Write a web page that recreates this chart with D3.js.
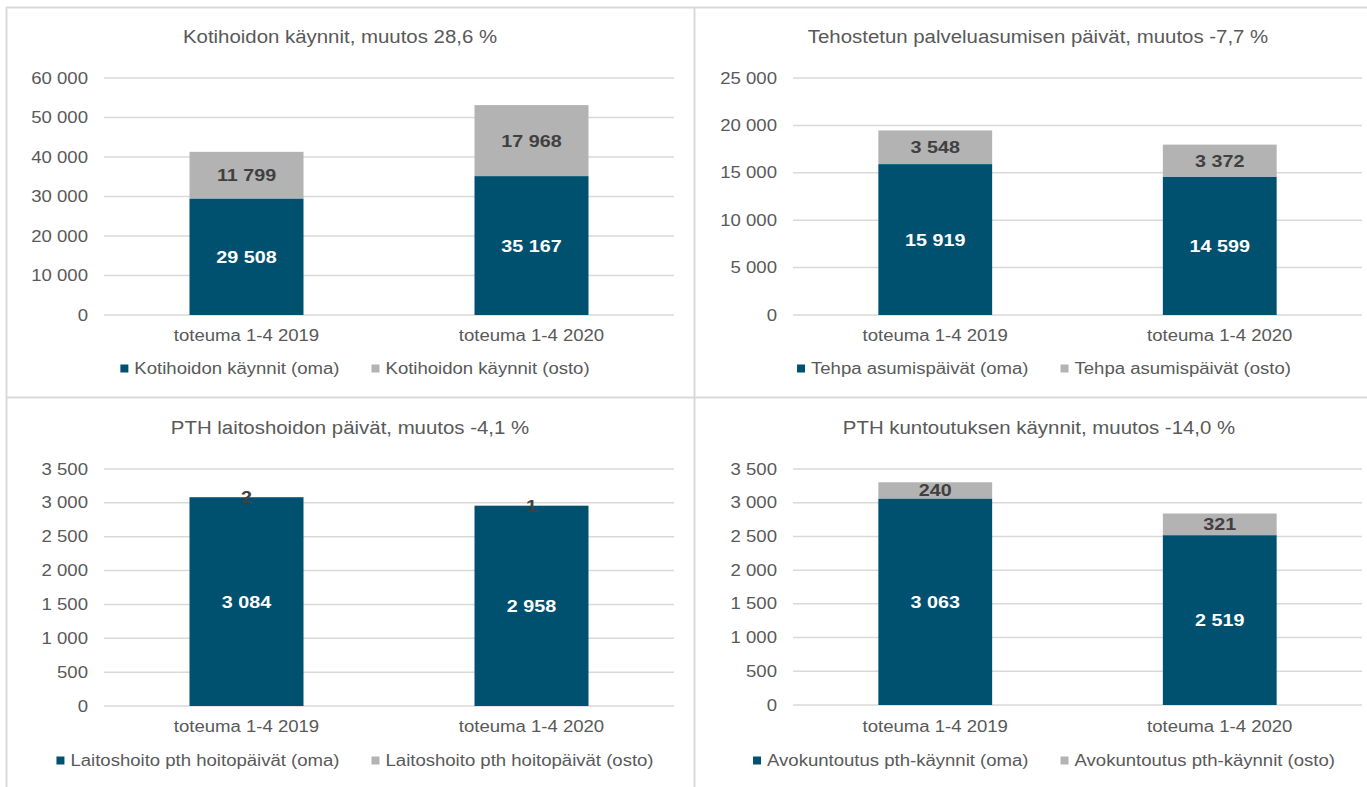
<!DOCTYPE html>
<html>
<head>
<meta charset="utf-8">
<script src="https://cdn.jsdelivr.net/npm/d3@7"></script>
<style>
  html, body { margin: 0; padding: 0; background: #fff; }
  svg { display: block; font-family: "Liberation Sans", Arial, sans-serif; }
</style>
</head>
<body>
<svg id="chart" width="1367" height="787"></svg>
<script>
// ---------- DATA ----------
const categories = ["toteuma 1-4 2019", "toteuma 1-4 2020"];
const titles = [
  "Kotihoidon käynnit, muutos 28,6 %",
  "Tehostetun palveluasumisen päivät, muutos -7,7 %",
  "PTH laitoshoidon päivät, muutos -4,1 %",
  "PTH kuntoutuksen käynnit, muutos -14,0 %"
];
const omaNames = [
  "Kotihoidon käynnit (oma)",
  "Tehpa asumispäivät (oma)",
  "Laitoshoito pth hoitopäivät (oma)",
  "Avokuntoutus pth-käynnit (oma)"
];
const ostoNames = [
  "Kotihoidon käynnit (osto)",
  "Tehpa asumispäivät (osto)",
  "Laitoshoito pth hoitopäivät (osto)",
  "Avokuntoutus pth-käynnit (osto)"
];
const omaValues = [[29508, 35167], [15919, 14599], [3084, 2958], [3063, 2519]];
const ostoValues = [[11799, 17968], [3548, 3372], [2, 1], [240, 321]];
const yMax = [60000, 25000, 3500, 3500];
const yStep = [10000, 5000, 500, 500];

// ---------- LAYOUT / STYLE ----------
const layout = [
  {x0: 104, x1: 674, yTop: 78, yZero: 315, titleX: 340, titleY: 43, catY: 341, legY: 374, legCx: 355},
  {x0: 793, x1: 1362, yTop: 78, yZero: 315, titleX: 1038, titleY: 43, catY: 341, legY: 374, legCx: 1044},
  {x0: 104, x1: 674, yTop: 469, yZero: 706, titleX: 350, titleY: 434, catY: 732, legY: 766, legCx: 355},
  {x0: 793, x1: 1362, yTop: 469, yZero: 705, titleX: 1039, titleY: 434, catY: 732, legY: 766, legCx: 1044}
];
const SX = 1.16;           // horizontal text stretch seen in the reference
const C_OMA = "#00516F";
const C_OSTO = "#B3B3B3";
const C_TEXT = "#595959";
const C_GRID = "#D9D9D9";

const loc = d3.formatLocale({decimal: ",", thousands: " ", grouping: [3], currency: ["", ""]});
const fmt = loc.format(",d");

const svg = d3.select("#chart");

function txt(g, x, y, s, o) {
  o = o || {};
  return g.append("text")
    .attr("transform", `translate(${x},${y}) scale(${SX},1)`)
    .attr("text-anchor", o.anchor || "middle")
    .attr("dy", o.dy || null)
    .attr("font-size", o.size || 16)
    .attr("font-weight", o.weight || "normal")
    .attr("fill", o.fill || C_TEXT)
    .text(s);
}

// panel borders
const borders = svg.append("g").attr("stroke", C_GRID).attr("stroke-width", 2).attr("fill", "none");
borders.append("line").attr("x1", 6).attr("x2", 1367).attr("y1", 7.5).attr("y2", 7.5);
borders.append("line").attr("x1", 6).attr("x2", 1367).attr("y1", 397.5).attr("y2", 397.5);
borders.append("line").attr("x1", 6.5).attr("x2", 6.5).attr("y1", 7).attr("y2", 787);
borders.append("line").attr("x1", 694.5).attr("x2", 694.5).attr("y1", 7).attr("y2", 787);

for (let p = 0; p < 4; p++) {
  const L = layout[p];
  const g = svg.append("g");

  const x = d3.scaleBand().domain(categories).range([L.x0, L.x1]).paddingInner(0.6).paddingOuter(0.3);
  const y = d3.scaleLinear().domain([0, yMax[p]]).range([L.yZero, L.yTop]);
  const ticks = d3.range(0, yMax[p] + 1, yStep[p]);

  // gridlines
  g.append("g").selectAll("line").data(ticks).join("line")
    .attr("x1", L.x0).attr("x2", L.x1)
    .attr("y1", d => y(d)).attr("y2", d => y(d))
    .attr("stroke", C_GRID).attr("stroke-width", 1.5);

  // y tick labels
  ticks.forEach(t => txt(g, L.x0 - 16, y(t), fmt(t), {anchor: "end", dy: "0.35em"}));

  // title
  txt(g, L.titleX, L.titleY, titles[p], {size: 17.6});

  // stacked bars
  categories.forEach((c, i) => {
    const oma = omaValues[p][i], osto = ostoValues[p][i];
    const bx = x(c), bw = x.bandwidth();
    g.append("rect").attr("x", bx).attr("width", bw)
      .attr("y", y(oma)).attr("height", y(0) - y(oma)).attr("fill", C_OMA);
    g.append("rect").attr("x", bx).attr("width", bw)
      .attr("y", y(oma + osto)).attr("height", y(oma) - y(oma + osto)).attr("fill", C_OSTO);
    txt(g, bx + bw / 2, (y(0) + y(oma)) / 2, fmt(oma), {size: 17, weight: "bold", fill: "#FFFFFF", dy: "0.35em"});
    txt(g, bx + bw / 2, (y(oma) + y(oma + osto)) / 2, fmt(osto), {size: 17, weight: "bold", fill: "#404040", dy: "0.35em"});
    txt(g, bx + bw / 2, L.catY, c);
  });

  // legend
  const leg = g.append("g");
  const names = [omaNames[p], ostoNames[p]];
  const cols = [C_OMA, C_OSTO];
  const items = names.map((n, k) => {
    const t = txt(leg, 0, L.legY, n, {anchor: "start"});
    return {t, w: t.node().getComputedTextLength() * SX, col: cols[k]};
  });
  const sq = 8, sqGap = 6, itemGap = 32;
  const total = items.reduce((a, it) => a + sq + sqGap + it.w, 0) + itemGap;
  let cx = L.legCx - total / 2;
  items.forEach(it => {
    leg.append("rect").attr("x", cx).attr("y", L.legY - 9.5).attr("width", sq).attr("height", sq).attr("fill", it.col);
    it.t.attr("transform", `translate(${cx + sq + sqGap},${L.legY}) scale(${SX},1)`);
    cx += sq + sqGap + it.w + itemGap;
  });
}
</script>
</body>
</html>
